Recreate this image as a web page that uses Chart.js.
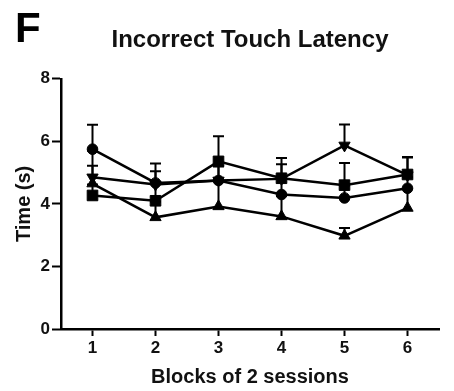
<!DOCTYPE html>
<html>
<head>
<meta charset="utf-8">
<script src="https://cdn.jsdelivr.net/npm/chart.js@4.4.1/dist/chart.umd.min.js"></script>
<style>
    html, body { margin: 0; padding: 0; background: #fff; }
</style>
</head>
<body>
<canvas id="chart" width="454" height="391"></canvas>
<script>
// session blocks on the x axis
let blocks = ['1', '2', '3', '4', '5', '6'];
let yTicks = [0, 2, 4, 6, 8];

// group means (s) and upper SEM for each group
let circleMean = [5.75, 4.67, 4.75, 4.30, 4.19, 4.50];
let circleErr = [0.78, 0.62, 0.45, 0.50, 0.40, 0.35];

let squareMean = [4.27, 4.10, 5.36, 4.82, 4.60, 4.94];
let squareErr = [0.35, 0.55, 0.80, 0.45, 0.71, 0.56];

let triUpMean = [4.65, 3.57, 3.92, 3.60, 2.98, 3.87];
let triUpErr = [1.05, 0.50, 0.80, 0.65, 0.25, 0.60];

let triDownMean = [4.85, 4.62, 4.75, 4.80, 5.87, 4.92];
let triDownErr = [0.37, 0.42, 0.45, 0.67, 0.67, 0.56];

Chart.defaults.font.family = '"Liberation Sans", Arial, sans-serif';
Chart.defaults.color = '#111';

// upper-only error bars with caps, drawn under the markers
const errorBars = {
    id: 'errorBars',
    beforeDatasetsDraw(chart) {
        const ctx = chart.ctx;
        const yScale = chart.scales.y;
        ctx.save();
        ctx.strokeStyle = '#000';
        ctx.lineWidth = 2;
        chart.data.datasets.forEach((ds, i) => {
            chart.getDatasetMeta(i).data.forEach((pt, j) => {
                const top = yScale.getPixelForValue(ds.data[j] + ds.errors[j]);
                ctx.beginPath();
                ctx.moveTo(pt.x, pt.y);
                ctx.lineTo(pt.x, top);
                ctx.moveTo(pt.x - 5.5, top);
                ctx.lineTo(pt.x + 5.5, top);
                ctx.stroke();
            });
        });
        ctx.restore();
    }
};

// panel letter in the top-left corner
const panelLetter = {
    id: 'panelLetter',
    afterDraw(chart) {
        const ctx = chart.ctx;
        ctx.save();
        ctx.fillStyle = '#000';
        ctx.font = 'bold 42px "Liberation Sans", Arial, sans-serif';
        ctx.textBaseline = 'alphabetic';
        ctx.fillText('F', 15, 42);
        ctx.restore();
    }
};

function series(data, errors, style, radius, rotation) {
    return {
        data: data,
        errors: errors,
        borderColor: '#000',
        backgroundColor: '#000',
        borderWidth: 2.5,
        pointStyle: style,
        pointRadius: radius,
        pointRotation: rotation,
        pointBorderWidth: 1,
        pointBackgroundColor: '#000',
        pointBorderColor: '#000',
        tension: 0,
        clip: false
    };
}

let ctx = document.getElementById('chart').getContext('2d');

let chart = new Chart(ctx, {
    type: 'line',
    data: {
        labels: blocks,
        datasets: [
            series(triUpMean, triUpErr, 'triangle', 6.5, 0),
            series(triDownMean, triDownErr, 'triangle', 6.5, 180),
            series(squareMean, squareErr, 'rect', 7.5, 0),
            series(circleMean, circleErr, 'circle', 5.3, 0)
        ]
    },
    options: {
        responsive: false,
        animation: false,
        layout: { padding: { left: 0, right: 15, top: 0, bottom: 0 } },
        plugins: {
            legend: { display: false },
            tooltip: { enabled: false },
            title: {
                display: true,
                fullSize: false,
                text: 'Incorrect Touch Latency',
                color: '#111',
                font: { size: 24, weight: 'bold' },
                padding: { top: 26, bottom: 24 }
            }
        },
        scales: {
            x: {
                type: 'category',
                offset: true,
                grid: {
                    offset: false,
                    drawOnChartArea: false,
                    drawTicks: true,
                    tickLength: 7,
                    tickWidth: 2,
                    tickColor: '#000'
                },
                border: { color: '#000', width: 2.5 },
                ticks: { color: '#111', font: { size: 17, weight: 'bold' }, padding: 2 },
                title: {
                    display: true,
                    text: 'Blocks of 2 sessions',
                    color: '#111',
                    font: { size: 20, weight: 'bold' },
                    padding: { top: 0, bottom: 2 }
                },
                afterFit(s) { s.height = 62; }
            },
            y: {
                min: 0,
                max: 8,
                afterBuildTicks(s) { s.ticks = yTicks.map(v => ({ value: v })); },
                grid: {
                    drawOnChartArea: false,
                    drawTicks: true,
                    tickLength: 9,
                    tickWidth: 2,
                    tickColor: '#000'
                },
                border: { color: '#000', width: 2.5 },
                ticks: { color: '#111', font: { size: 17, weight: 'bold' }, padding: 2 },
                title: {
                    display: true,
                    text: 'Time (s)',
                    color: '#111',
                    font: { size: 20, weight: 'bold' },
                    padding: { top: 12, bottom: 0 }
                },
                afterFit(s) { s.width = 61; }
            }
        }
    },
    plugins: [errorBars, panelLetter]
});
</script>
</body>
</html>
